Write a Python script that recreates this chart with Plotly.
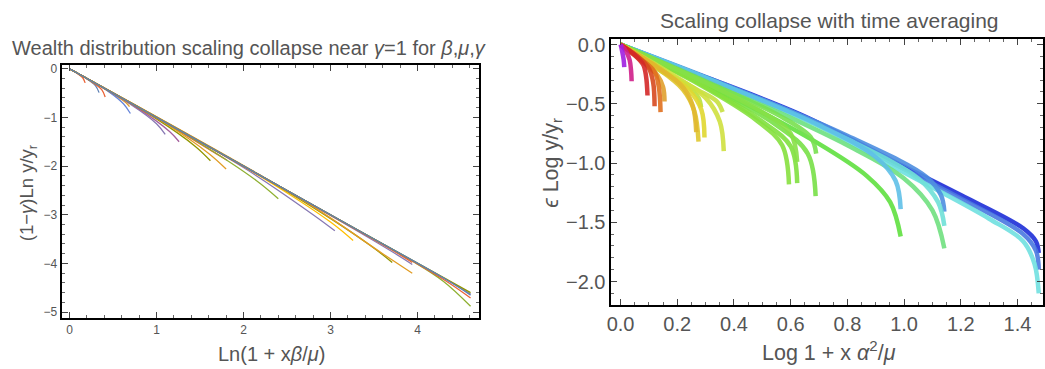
import plotly.graph_objects as go

W, H = 1045, 369

# ---------------- left panel: wealth distribution collapse ----------------
left_colors = [
    "#EB6235", "#5E81B5", "#EB6235", "#E19C24", "#6685D9", "#8778B3",
    "#A5609D", "#929600", "#EB6235", "#E19C24", "#8FB032", "#8778B3",
    "#FFBF00", "#929600", "#E19C24", "#8778B3", "#EB6235", "#8FB032",
    "#EB6235", "#8778B3", "#929600", "#5E81B5",
]
left_x = [
    [0, 0.10, 0.15, 0.18],
    [0, 0.20, 0.30, 0.34],
    [0, 0.25, 0.37, 0.41],
    [0, 0.50, 0.65, 0.69],
    [0, 0.45, 0.62, 0.70],
    [0, 0.70, 1.00, 1.10],
    [0, 0.80, 1.15, 1.26],
    [0, 1.00, 1.45, 1.62],
    [0, 1.20, 1.70, 1.81],
    [0, 1.10, 1.60, 1.80],
    [0, 1.50, 2.15, 2.40],
    [0, 2.00, 2.80, 3.05],
    [0, 2.20, 3.00, 3.26],
    [0, 2.50, 3.45, 3.71],
    [0, 2.70, 3.60, 3.94],
    [0, 2.80, 3.70, 3.94],
    [0, 2.80, 3.75, 3.94],
    [0, 3.00, 3.94, 4.30, 4.61],
    [0, 3.20, 4.30, 4.61],
    [0, 3.20, 4.30, 4.61],
    [0, 3.20, 4.30, 4.61],
    [0, 3.20, 4.30, 4.61],
]
left_y = [
    [0, -0.11, -0.18, -0.29],
    [0, -0.21, -0.35, -0.49],
    [0, -0.26, -0.43, -0.58],
    [0, -0.52, -0.70, -0.78],
    [0, -0.47, -0.72, -0.92],
    [0, -0.73, -1.13, -1.35],
    [0, -0.83, -1.29, -1.50],
    [0, -1.03, -1.60, -1.89],
    [0, -1.22, -1.76, -1.88],
    [0, -1.12, -1.74, -2.06],
    [0, -1.53, -2.30, -2.67],
    [0, -2.03, -3.00, -3.33],
    [0, -2.22, -3.15, -3.53],
    [0, -2.52, -3.62, -3.98],
    [0, -2.72, -3.80, -4.20],
    [0, -2.81, -3.75, -4.02],
    [0, -2.81, -3.77, -3.98],
    [0, -3.00, -3.95, -4.37, -4.88],
    [0, -3.20, -4.33, -4.71],
    [0, -3.20, -4.30, -4.63],
    [0, -3.20, -4.29, -4.60],
    [0, -3.20, -4.30, -4.65],
]

# ---------------- right panel: time-averaged collapse ----------------
right_colors = [
    "#2030D8", "#4A78E0", "#70E0E0", "#5090E0", "#70E0D8", "#70E080",
    "#60C0E8", "#60E040", "#78E048", "#80E040", "#88E040", "#78E050",
    "#88E048", "#C8E040", "#B8E040", "#D0E040", "#E0D830", "#E0C830",
    "#E0B830", "#E0A030", "#E07020", "#D84A20", "#D42828", "#D0208A",
    "#A020E0",
]
right_x = [
    [0, 0.20, 0.635, 1.00, 1.20, 1.42, 1.465, 1.475],
    [0, 0.20, 0.635, 1.00, 1.20, 1.42, 1.465, 1.475],
    [0, 0.20, 0.635, 1.00, 1.142, 1.30, 1.42, 1.46, 1.475],
    [0, 0.35, 0.80, 1.08, 1.13, 1.142],
    [0, 0.35, 0.80, 1.05, 1.12, 1.142],
    [0, 0.35, 0.80, 1.00, 1.10, 1.142],
    [0, 0.30, 0.70, 0.90, 0.97, 0.988],
    [0, 0.30, 0.694, 0.869, 0.951, 0.988],
    [0, 0.30, 0.55, 0.66, 0.688],
    [0, 0.28, 0.50, 0.60, 0.623],
    [0, 0.28, 0.48, 0.57, 0.594],
    [0, 0.30, 0.56, 0.67, 0.69],
    [0, 0.28, 0.50, 0.60, 0.623],
    [0, 0.15, 0.27, 0.34, 0.36],
    [0, 0.14, 0.24, 0.275, 0.284],
    [0, 0.18, 0.30, 0.35, 0.364],
    [0, 0.14, 0.24, 0.285, 0.296],
    [0, 0.13, 0.22, 0.26, 0.275],
    [0, 0.13, 0.22, 0.255, 0.267],
    [0, 0.08, 0.13, 0.15, 0.155],
    [0, 0.07, 0.12, 0.135, 0.141],
    [0, 0.06, 0.10, 0.115, 0.12],
    [0, 0.05, 0.08, 0.09, 0.095],
    [0, 0.02, 0.032, 0.037, 0.039],
    [0, 0.006, 0.011, 0.013],
]
right_y = [
    [0, -0.185, -0.59, -1.03, -1.27, -1.55, -1.66, -1.76],
    [0, -0.19, -0.60, -1.05, -1.30, -1.60, -1.74, -1.90],
    [0, -0.19, -0.61, -1.08, -1.26, -1.47, -1.66, -1.85, -2.10],
    [0, -0.32, -0.77, -1.12, -1.27, -1.41],
    [0, -0.33, -0.80, -1.13, -1.33, -1.53],
    [0, -0.35, -0.85, -1.13, -1.40, -1.72],
    [0, -0.28, -0.68, -0.95, -1.15, -1.39],
    [0, -0.33, -0.83, -1.11, -1.33, -1.62],
    [0, -0.34, -0.68, -0.92, -1.28],
    [0, -0.33, -0.65, -0.86, -1.17],
    [0, -0.34, -0.64, -0.85, -1.18],
    [0, -0.31, -0.60, -0.78, -0.92],
    [0, -0.30, -0.57, -0.75, -0.99],
    [0, -0.22, -0.38, -0.48, -0.57],
    [0, -0.22, -0.36, -0.45, -0.53],
    [0, -0.25, -0.45, -0.65, -0.90],
    [0, -0.21, -0.38, -0.55, -0.785],
    [0, -0.20, -0.38, -0.56, -0.82],
    [0, -0.19, -0.36, -0.52, -0.74],
    [0, -0.15, -0.26, -0.36, -0.48],
    [0, -0.12, -0.23, -0.36, -0.57],
    [0, -0.10, -0.20, -0.32, -0.52],
    [0, -0.09, -0.17, -0.27, -0.43],
    [0, -0.06, -0.13, -0.22, -0.31],
    [0, -0.06, -0.13, -0.19],
]

fig = go.Figure()

for xs, ys, c in zip(left_x, left_y, left_colors):
    fig.add_trace(go.Scatter(
        x=xs, y=ys, mode="lines", xaxis="x", yaxis="y",
        line=dict(color=c, width=1.3, shape="spline", smoothing=1.0),
        showlegend=False, hoverinfo="skip"))

for xs, ys, c in zip(right_x, right_y, right_colors):
    fig.add_trace(go.Scatter(
        x=xs, y=ys, mode="lines", xaxis="x2", yaxis="y2",
        line=dict(color=c, width=4.5, shape="spline", smoothing=1.0),
        opacity=0.9, showlegend=False, hoverinfo="skip"))

FONT = "Liberation Sans, Arial, sans-serif"
GRAY = "#555555"


def frame_axis(rng, dtick, minor_dtick, size, anchor, domain, fmt=None):
    d = dict(
        range=rng, domain=domain, anchor=anchor,
        showline=True, linecolor="black", linewidth=2, mirror="allticks",
        ticks="inside", ticklen=6, tickwidth=1, tickcolor="#444444",
        dtick=dtick, tick0=0,
        minor=dict(ticks="inside", ticklen=3, tickwidth=1, tickcolor="#666666", dtick=minor_dtick),
        showgrid=False, zeroline=False,
        tickfont=dict(family=FONT, size=size, color=GRAY),
    )
    if fmt:
        d["tickformat"] = fmt
    return d


fig.update_layout(
    width=W, height=H,
    margin=dict(l=0, r=0, t=0, b=0),
    paper_bgcolor="white", plot_bgcolor="white",
    xaxis=frame_axis([-0.09, 4.71], 1, 0.2, 12, "y", [57 / W, 477 / W]),
    yaxis=frame_axis([-5.12, 0.08], 1, 0.2, 12, "x", [1 - 318 / H, 1 - 60 / H]),
    xaxis2=frame_axis([-0.032, 1.49], 0.2, 0.05, 20, "y2", [610 / W, 1044 / W], ".1f"),
    yaxis2=frame_axis([-2.2, 0.044], 0.5, 0.1, 20, "x2", [1 - 305 / H, 1 - 34 / H], ".1f"),
)


def label(text, px, py, size, angle=0):
    fig.add_annotation(
        text=text, x=px / W, y=1 - py / H, xref="paper", yref="paper",
        showarrow=False, textangle=angle, xanchor="center", yanchor="middle",
        font=dict(family=FONT, size=size, color=GRAY))


label("Wealth distribution scaling collapse near <i>γ</i>=1 for <i>β</i>,<i>μ</i>,<i>γ</i>", 245, 43, 20)
label("Ln(1 + x<i>β</i>/<i>μ</i>)", 268, 355, 20)
label("(1−<i>γ</i>)Ln y/y<sub>r</sub>", 24, 190, 18.5, -90)
label("Scaling collapse with time averaging", 829, 15, 21)
label("Log 1 + x <i>α</i><sup>2</sup>/<i>μ</i>", 829, 352, 21.5)
label("<i>ϵ</i> Log y/y<sub>r</sub>", 551, 160, 21.5, -90)

fig.write_html("out.html")
